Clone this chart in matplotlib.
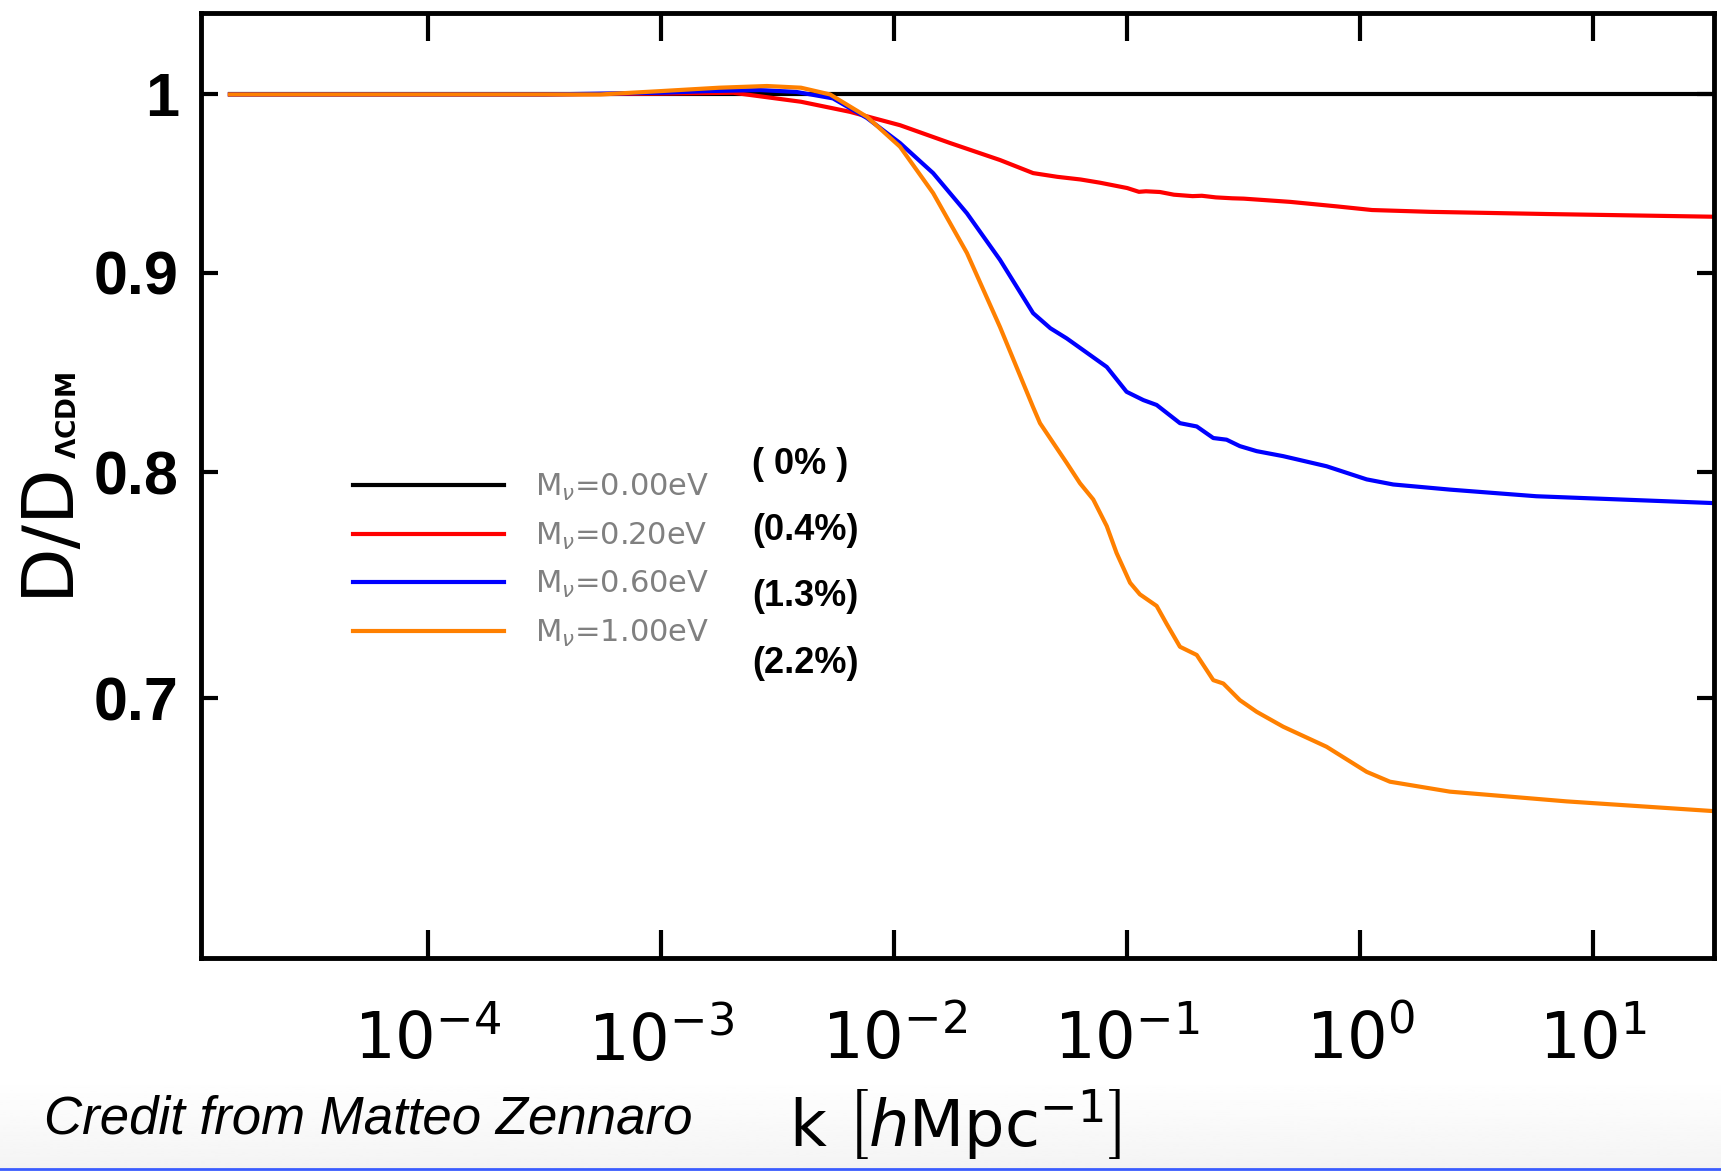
import numpy as np
import matplotlib.pyplot as plt
from matplotlib.lines import Line2D
from matplotlib.ticker import FixedLocator, FixedFormatter, NullLocator

plt.rcParams['font.family'] = ['DejaVu Sans']
plt.rcParams['mathtext.fontset'] = 'dejavusans'

# growth ratio D/D_LCDM vs k (log10 k, ratio)
logk_black = [-4.85, 1.52]
d_black = [1.0, 1.0]

logk_red = [-4.85, -3.5, -3.0, -2.69, -2.4, -2.19, -1.975, -1.76, -1.546, -1.404, -1.3, -1.2,
            -1.117, -1.0, -0.95, -0.92, -0.86, -0.80, -0.72, -0.68, -0.62, -0.55, -0.50,
            -0.30, -0.10, 0.05, 0.30, 0.80, 1.52]
d_red = [1.0, 1.0, 1.0005, 1.001, 0.9957, 0.9898, 0.982, 0.9717, 0.962, 0.9546, 0.9525, 0.9510,
         0.9492, 0.9462, 0.9441, 0.9444, 0.9440, 0.9425, 0.9417, 0.9419, 0.9410, 0.9405, 0.9403,
         0.9385, 0.9360, 0.9340, 0.9330, 0.9318, 0.9303]

logk_blue = [-4.85, -3.5, -3.0, -2.8, -2.576, -2.42, -2.263, -2.117, -1.975, -1.833, -1.688,
             -1.546, -1.404, -1.33, -1.26, -1.189, -1.088, -1.003, -0.931, -0.874, -0.774,
             -0.702, -0.631, -0.574, -0.517, -0.445, -0.331, -0.145, 0.027, 0.141, 0.384,
             0.755, 1.52]
d_blue = [1.0, 1.0, 1.001, 1.002, 1.0026, 1.0015, 0.9977, 0.9862, 0.9717, 0.9546, 0.9322,
          0.9069, 0.8788, 0.8710, 0.8658, 0.8598, 0.8513, 0.8389, 0.8348, 0.8324, 0.8235,
          0.8219, 0.8163, 0.8155, 0.8124, 0.8100, 0.8076, 0.8028, 0.7966, 0.7942, 0.7918,
          0.7887, 0.7855]

logk_orange = [-4.85, -3.5, -3.26, -3.0, -2.75, -2.546, -2.40, -2.275, -2.117, -1.975, -1.833,
               -1.688, -1.546, -1.404, -1.3745, -1.260, -1.203, -1.146, -1.088, -1.046, -0.988,
               -0.946, -0.874, -0.831, -0.774, -0.702, -0.631, -0.588, -0.517, -0.445, -0.331,
               -0.145, 0.027, 0.127, 0.384, 0.885, 1.52]
d_orange = [1.0, 1.0, 1.0, 1.002, 1.004, 1.005, 1.004, 1.0, 0.9869, 0.9696, 0.9434,
            0.9106, 0.8716, 0.8313, 0.8235, 0.8044, 0.7948, 0.7872, 0.7749, 0.7627, 0.7494,
            0.7443, 0.7392, 0.7314, 0.7216, 0.7181, 0.7075, 0.7061, 0.6992, 0.6944, 0.6883,
            0.6802, 0.6702, 0.6663, 0.6624, 0.6586, 0.6548]

labels = [r'M$_\nu$=0.00eV', r'M$_\nu$=0.20eV', r'M$_\nu$=0.60eV', r'M$_\nu$=1.00eV']
percents = ['( 0% )', '(0.4%)', '(1.3%)', '(2.2%)']
colors = ['black', '#ff0000', '#0000ff', '#ff8000']

xtick_exp = [-4, -3, -2, -1, 0, 1]
yticks = [0.7, 0.8, 0.9, 1.0]
ytick_labels = ['0.7', '0.8', '0.9', '1']

fig = plt.figure(figsize=(17.21, 11.71), dpi=100)

# faint slide background at the bottom
bg = fig.add_axes([0, 0, 1, 0.08], zorder=-5)
bg.imshow(np.linspace(1.0, 0.955, 50)[:, None] * np.ones((1, 2)), cmap='gray', vmin=0, vmax=1,
          aspect='auto', extent=[0, 1, 0, 1])
bg.axis('off')
fig.add_artist(Line2D([0, 1], [0.002, 0.002], transform=fig.transFigure, color='#3a5cff', lw=2))

ax = fig.add_axes([0.1168, 0.1819, 0.8791, 0.8070])
series = [(logk_black, d_black), (logk_red, d_red), (logk_blue, d_blue), (logk_orange, d_orange)]
for (lk, d), c, lab in zip(series, colors, labels):
    ax.plot(10.0 ** np.array(lk), d, color=c, lw=3, label=lab)

ax.set_xscale('log')
ax.set_yscale('log')
ax.set_xlim(10 ** -4.974, 10 ** 1.517)
ax.set_ylim(0.6004, 1.0493)

ax.xaxis.set_major_locator(FixedLocator([10.0 ** e for e in xtick_exp]))
ax.xaxis.set_major_formatter(FixedFormatter([r'$\mathregular{10^{%d}}$' % e for e in xtick_exp]))
ax.xaxis.set_minor_locator(NullLocator())
ax.yaxis.set_major_locator(FixedLocator(yticks))
ax.yaxis.set_major_formatter(FixedFormatter(ytick_labels))
ax.yaxis.set_minor_locator(NullLocator())

ax.tick_params(which='both', direction='in', top=True, right=True)
ax.tick_params(axis='x', length=20, width=3, pad=37, labelsize=46)
ax.tick_params(axis='y', length=12, width=3, pad=16, labelsize=44)
for t in ax.get_yticklabels():
    t.set_fontweight('bold')
    t.set_fontfamily('Liberation Sans')
for s in ax.spines.values():
    s.set_linewidth(3.5)

leg = ax.legend(loc='upper left', bbox_to_anchor=(353 / 1721, 1 - 472 / 1171),
                bbox_transform=fig.transFigure, frameon=False, fontsize=22,
                labelcolor='#808080', handlelength=4.95, handletextpad=1.0,
                labelspacing=0.57, borderpad=0, borderaxespad=0)

for i, p in enumerate(percents):
    fig.text(752 / 1721, 1 - (464 + 66.5 * i) / 1171, p, ha='left', va='center',
             fontsize=26, fontweight='bold', family='Liberation Sans')

# axis labels
fig.text(955 / 1721, 1 - 1125 / 1171, r'k $\left[\mathit{h}\mathrm{Mpc}^{-1}\right]$',
         ha='center', va='center', fontsize=46)
fig.text(47 / 1721, 1 - 528 / 1171, 'D/D', rotation=90, ha='center', va='center', fontsize=52)
fig.text(69 / 1721, 1 - 415 / 1171, r'$\mathbf{\Lambda CDM}$', rotation=90, ha='center',
         va='center', fontsize=19)

fig.text(44 / 1721, 1 - 1120 / 1171, 'Credit from Matteo Zennaro', ha='left', va='center',
         fontsize=38, style='italic', family='Liberation Sans')

fig.savefig('out.png', dpi=100)
